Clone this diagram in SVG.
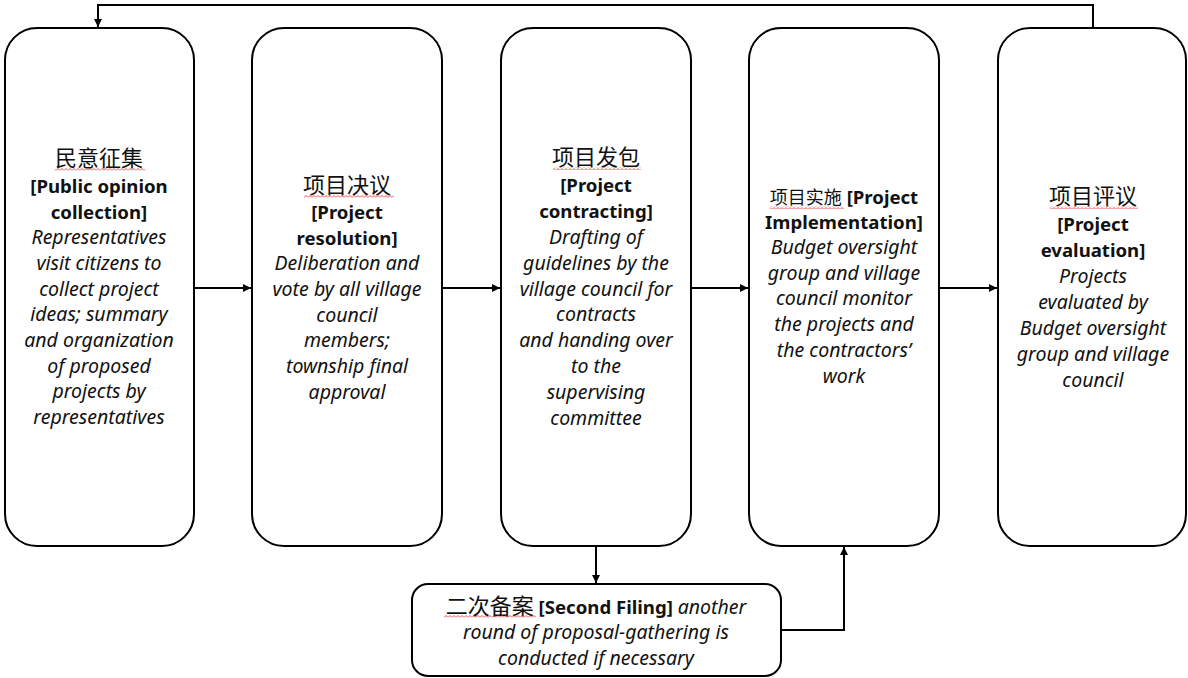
<svg xmlns="http://www.w3.org/2000/svg" width="1188" height="678" viewBox="0 0 1188 678">
<style>
.box{fill:#fff;stroke:#000;stroke-width:2}
.cn{font-family:"Noto Sans CJK SC","Noto Sans",sans-serif;font-size:22px;fill:#111;text-anchor:middle}
.b{font-family:"Noto Sans","Noto Sans CJK SC",sans-serif;font-size:18.6px;font-weight:bold;fill:#111;text-anchor:middle}
.i{font-family:"Noto Sans",sans-serif;font-size:19.5px;font-style:italic;fill:#111;text-anchor:middle}
.t{font-family:"Noto Sans","Noto Sans CJK SC",sans-serif;font-size:18.6px;fill:#111;text-anchor:middle}
.conn{fill:none;stroke:#000;stroke-width:2}
</style>
<defs>
<marker id="ah" markerUnits="userSpaceOnUse" markerWidth="10" markerHeight="10" refX="8" refY="4" orient="auto">
<path d="M0,0 L8,4 L0,8 Z" fill="#000"/>
</marker>
<pattern id="sq" width="4" height="3" patternUnits="userSpaceOnUse">
<path d="M0,2.5 L2,0.5 L4,2.5" stroke="#e02020" fill="none" stroke-width="0.8"/>
</pattern>
</defs>
<rect width="1188" height="678" fill="#fff"/>
<g id="connectors">
<path class="conn" d="M194,288 H251" marker-end="url(#ah)"/>
<path class="conn" d="M442,288 H500" marker-end="url(#ah)"/>
<path class="conn" d="M691,288 H748" marker-end="url(#ah)"/>
<path class="conn" d="M939,288 H997" marker-end="url(#ah)"/>
<path class="conn" d="M1093,28 V5 H98 V27" marker-end="url(#ah)"/>
<path class="conn" d="M596,546 V583" marker-end="url(#ah)"/>
<path class="conn" d="M781,630 H844 V547" marker-end="url(#ah)"/>
</g>
<g id="n1">
<rect class="box" x="5" y="28" width="189" height="518" rx="32"/>
<text class="cn" x="99" y="166">民意征集</text>
<rect x="55" y="168" width="90" height="3" fill="url(#sq)"/>
<text class="b" x="99" y="193">[Public opinion</text>
<text class="b" x="99" y="219">collection]</text>
<text class="i" x="99" y="244">Representatives</text>
<text class="i" x="99" y="270">visit citizens to</text>
<text class="i" x="99" y="296">collect project</text>
<text class="i" x="99" y="321">ideas; summary</text>
<text class="i" x="99" y="347">and organization</text>
<text class="i" x="99" y="373">of proposed</text>
<text class="i" x="99" y="398">projects by</text>
<text class="i" x="99" y="424">representatives</text>
</g>
<g id="n2">
<rect class="box" x="252" y="28" width="190" height="518" rx="32"/>
<text class="cn" x="347" y="193">项目决议</text>
<rect x="304" y="195" width="90" height="3" fill="url(#sq)"/>
<text class="b" x="347" y="219">[Project</text>
<text class="b" x="347" y="245">resolution]</text>
<text class="i" x="347" y="270">Deliberation and</text>
<text class="i" x="347" y="296">vote by all village</text>
<text class="i" x="347" y="322">council</text>
<text class="i" x="347" y="347">members;</text>
<text class="i" x="347" y="373">township final</text>
<text class="i" x="347" y="399">approval</text>
</g>
<g id="n3">
<rect class="box" x="501" y="28" width="190" height="518" rx="32"/>
<text class="cn" x="596" y="165">项目发包</text>
<rect x="553" y="167" width="88" height="3" fill="url(#sq)"/>
<text class="b" x="596" y="192">[Project</text>
<text class="b" x="596" y="218">contracting]</text>
<text class="i" x="596" y="244">Drafting of</text>
<text class="i" x="596" y="270">guidelines by the</text>
<text class="i" x="596" y="296">village council for</text>
<text class="i" x="596" y="321">contracts</text>
<text class="i" x="596" y="347">and handing over</text>
<text class="i" x="596" y="373">to the</text>
<text class="i" x="596" y="399">supervising</text>
<text class="i" x="596" y="425">committee</text>
</g>
<g id="n4">
<rect class="box" x="749" y="28" width="190" height="518" rx="32"/>
<text class="t" x="844" y="204"><tspan font-family="Noto Sans CJK SC, sans-serif" font-size="18">项目实施</tspan> <tspan font-weight="bold">[Project</tspan></text>
<rect x="770" y="206" width="74" height="3" fill="url(#sq)"/>
<text class="b" x="844" y="229">Implementation]</text>
<text class="i" x="844" y="254">Budget oversight</text>
<text class="i" x="844" y="280">group and village</text>
<text class="i" x="844" y="305">council monitor</text>
<text class="i" x="844" y="331">the projects and</text>
<text class="i" x="844" y="357">the contractors’</text>
<text class="i" x="844" y="383">work</text>
</g>
<g id="n5">
<rect class="box" x="998" y="28" width="188" height="518" rx="32"/>
<text class="cn" x="1093" y="204">项目评议</text>
<rect x="1050" y="206" width="88" height="3" fill="url(#sq)"/>
<text class="b" x="1093" y="231">[Project</text>
<text class="b" x="1093" y="257">evaluation]</text>
<text class="i" x="1093" y="283">Projects</text>
<text class="i" x="1093" y="309">evaluated by</text>
<text class="i" x="1093" y="335">Budget oversight</text>
<text class="i" x="1093" y="361">group and village</text>
<text class="i" x="1093" y="387">council</text>
</g>
<g id="n6">
<rect class="box" x="412" y="584" width="369" height="92" rx="16"/>
<text class="t" x="596" y="614"><tspan font-family="Noto Sans CJK SC, sans-serif" font-size="22">二次备案</tspan> <tspan font-weight="bold">[Second Filing]</tspan> <tspan font-style="italic" font-size="19.5">another</tspan></text>
<rect x="444" y="615" width="92" height="3" fill="url(#sq)"/>
<text class="i" x="596" y="639">round of proposal-gathering is</text>
<text class="i" x="596" y="665">conducted if necessary</text>
</g>
</svg>
